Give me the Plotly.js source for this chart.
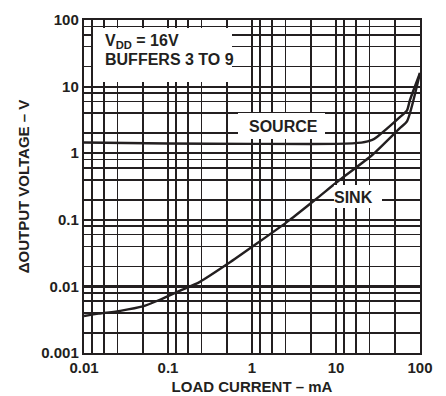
<!DOCTYPE html>
<html>
<head>
<meta charset="utf-8">
<script src="https://cdn.plot.ly/plotly-3.0.1.min.js"></script>
<style>html,body{margin:0;padding:0;background:#fff;}#chart{width:446px;height:396px;}</style>
</head>
<body>
<div id="chart"></div>
<script>
// Load current (mA) and delta output voltage (V)
const sinkCurrent = [0.01, 0.015, 0.027, 0.05, 0.08, 0.13, 0.24, 0.52, 1.14, 2.8, 5.6, 11, 27, 58, 70, 100];
const sinkVoltage = [0.0036, 0.0039, 0.0043, 0.005, 0.0063, 0.0083, 0.0117, 0.022, 0.044, 0.099, 0.198, 0.396, 0.94, 2.4, 3.0, 16];
const sourceCurrent = [0.01, 0.1, 1, 10, 20, 27, 31, 58, 70, 76, 100];
const sourceVoltage = [1.45, 1.40, 1.38, 1.38, 1.44, 1.58, 1.77, 3.5, 4.4, 6.3, 16];

const xTickVals = [0.01, 0.1, 1, 10, 100];
const xTickText = ["0.01", "0.1", "1", "10", "100"];
const yTickVals = [0.001, 0.01, 0.1, 1, 10, 100];
const yTickText = ["0.001", "0.01", "0.1", "1", "10", "100"];
const xMinorMult = [1.24, 1.72, 2.5, 5];
const yMinorMult = [2, 4, 6, 8];

const xMinor = [], yMinor = [];
xTickVals.slice(0, -1).forEach(d => xMinorMult.forEach(m => xMinor.push(d * m)));
yTickVals.slice(0, -1).forEach(d => yMinorMult.forEach(m => yMinor.push(d * m)));

const ink = '#231f20';
const fam = 'Liberation Sans, Arial, sans-serif';
const font = {family: fam, size: 15, color: ink, weight: 'bold'};
const labelFont = {family: fam, size: 16, color: ink, weight: 'bold'};

const traces = [
  {x: sourceCurrent, y: sourceVoltage, mode: 'lines', line: {color: ink, width: 2.4, shape: 'spline', smoothing: 0.6}, hoverinfo: 'skip'},
  {x: sinkCurrent, y: sinkVoltage, mode: 'lines', line: {color: ink, width: 2.4, shape: 'spline', smoothing: 0.6}, hoverinfo: 'skip'}
];

const axisCommon = {
  type: 'log', showline: true, mirror: true, linecolor: ink, linewidth: 2.2,
  showgrid: true, gridcolor: ink, gridwidth: 2.2, zeroline: false,
  ticks: '', tickmode: 'array', tickfont: font
};

const layout = {
  width: 446, height: 396,
  margin: {l: 84, r: 26, t: 20, b: 43},
  paper_bgcolor: '#fff', plot_bgcolor: '#fff',
  showlegend: false,
  font: font,
  xaxis: Object.assign({}, axisCommon, {
    range: [-2, 2], tickvals: xTickVals, ticktext: xTickText,
    minor: {tickmode: 'array', tickvals: xMinor, showgrid: true, gridcolor: ink, gridwidth: 1.6, ticks: ''},
    title: {text: 'LOAD CURRENT – mA', font: font, standoff: 6}
  }),
  yaxis: Object.assign({}, axisCommon, {
    range: [-3, 2], tickvals: yTickVals, ticktext: yTickText,
    minor: {tickmode: 'array', tickvals: yMinor, showgrid: true, gridcolor: ink, gridwidth: 1.6, ticks: ''},
    title: {text: 'ΔOUTPUT VOLTAGE – V', font: font, standoff: 8}
  }),
  shapes: [
    {type: 'rect', xref: 'paper', yref: 'paper', x0: 0.0268, x1: 0.4405, y0: 0.8138, y1: 0.976, fillcolor: '#fff', line: {width: 0}, layer: 'above'},
    {type: 'rect', xref: 'paper', yref: 'paper', x0: 0.4583, x1: 0.7173, y0: 0.6426, y1: 0.7207, fillcolor: '#fff', line: {width: 0}, layer: 'above'},
    {type: 'rect', xref: 'paper', yref: 'paper', x0: 0.744, x1: 0.8869, y0: 0.4354, y1: 0.5045, fillcolor: '#fff', line: {width: 0}, layer: 'above'}
  ],
  annotations: [
    {xref: 'paper', yref: 'paper', x: 0.0565, y: 0.935, xanchor: 'left', yanchor: 'middle', showarrow: false,
     text: 'V<sub>DD</sub> = 16V', font: labelFont},
    {xref: 'paper', yref: 'paper', x: 0.0565, y: 0.88, xanchor: 'left', yanchor: 'middle', showarrow: false,
     text: 'BUFFERS 3 TO 9', font: labelFont},
    {xref: 'paper', yref: 'paper', x: 0.5923, y: 0.6787, xanchor: 'center', yanchor: 'middle', showarrow: false,
     text: 'SOURCE', font: labelFont},
    {xref: 'paper', yref: 'paper', x: 0.802, y: 0.4655, xanchor: 'center', yanchor: 'middle', showarrow: false,
     text: 'SINK', font: labelFont}
  ]
};

Plotly.newPlot('chart', traces, layout, {staticPlot: true, displayModeBar: false});
</script>
</body>
</html>
